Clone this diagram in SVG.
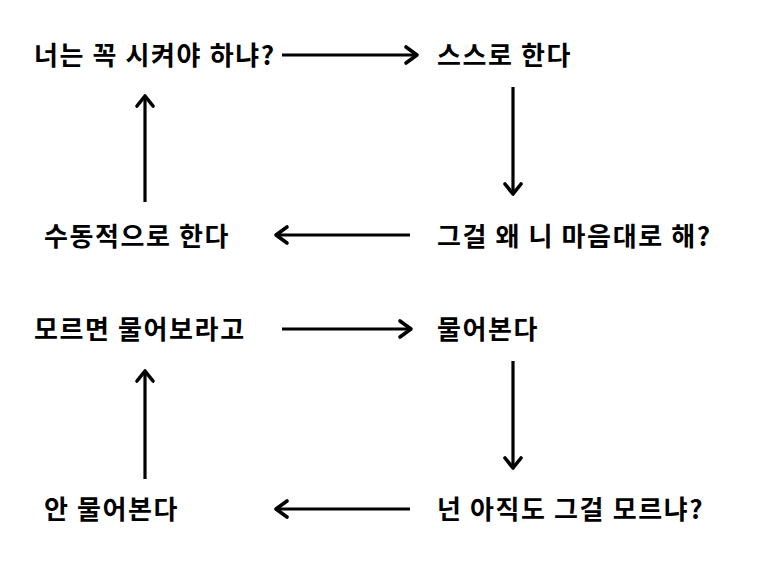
<svg xmlns="http://www.w3.org/2000/svg" width="765" height="586" viewBox="0 0 765 586">
<defs>
<style>
text{font-family:"Noto Sans CJK KR","Noto Sans",sans-serif;font-weight:bold;font-size:26px;letter-spacing:1.6px;fill:#000}
.c line{stroke:#000;stroke-width:3.2}
.c path{fill:none;stroke:#000;stroke-width:3.6;stroke-linecap:round;stroke-linejoin:round}
</style>
</defs>
<rect width="765" height="586" fill="#fff"/>
<g id="n1"><text x="34" y="65">너는 꼭 시켜야 하냐?</text></g>
<g id="n2"><text x="437" y="65">스스로 한다</text></g>
<g id="n3"><text x="437" y="246">그걸 왜 니 마음대로 해?</text></g>
<g id="n4"><text x="44" y="246">수동적으로 한다</text></g>
<g id="n5"><text x="34" y="339">모르면 물어보라고</text></g>
<g id="n6"><text x="437" y="339">물어본다</text></g>
<g id="n7"><text x="437" y="519">넌 아직도 그걸 모르냐?</text></g>
<g id="n8"><text x="44" y="519">안 물어본다</text></g>
<g class="c" id="connectors">
<line x1="282" y1="55" x2="416" y2="55"/><path d="M406,47 L417,55 L406,63"/>
<line x1="513" y1="87" x2="513" y2="193"/><path d="M505,184 L513,194 L521,184"/>
<line x1="410" y1="235" x2="277" y2="235"/><path d="M287,227 L276,235 L287,243"/>
<line x1="145" y1="202" x2="145" y2="97"/><path d="M137,106 L145,96 L153,106"/>
<line x1="282" y1="329" x2="410" y2="329"/><path d="M400,321 L411,329 L400,337"/>
<line x1="513" y1="361" x2="513" y2="467"/><path d="M505,458 L513,468 L521,458"/>
<line x1="410" y1="509" x2="277" y2="509"/><path d="M287,501 L276,509 L287,517"/>
<line x1="145" y1="479" x2="145" y2="372"/><path d="M137,381 L145,371 L153,381"/>
</g>
</svg>
